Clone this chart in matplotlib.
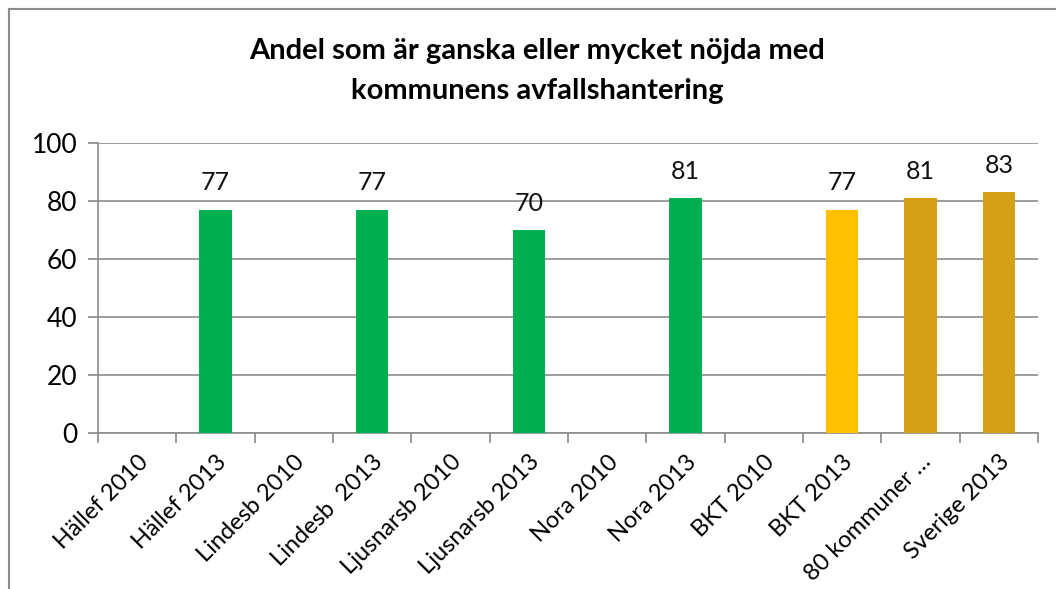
import matplotlib
matplotlib.use("Agg")
import matplotlib.pyplot as plt
from matplotlib.lines import Line2D
import numpy as np

categories = ["Hällef 2010", "Hällef 2013", "Lindesb 2010", "Lindesb  2013",
              "Ljusnarsb 2010", "Ljusnarsb 2013", "Nora 2010", "Nora 2013",
              "BKT 2010", "BKT 2013", "80 kommuner …", "Sverige 2013"]
values = [np.nan, 77, np.nan, 77, np.nan, 70, np.nan, 81, np.nan, 77, 81, 83]
bar_colors = ["#00B050", "#00B050", "#00B050", "#00B050", "#00B050", "#00B050",
              "#00B050", "#00B050", "#00B050", "#FFC000", "#D4A116", "#D4A116"]
title = "Andel som är ganska eller mycket nöjda med\nkommunens avfallshantering"

plt.rcParams['font.family'] = ['Lato', 'DejaVu Sans']

fig = plt.figure(figsize=(10.56, 5.89), dpi=100)
ax = fig.add_axes([98/1056, 1-433/589, 940/1056, 290/589])

x = np.arange(len(categories))
ax.bar(x, [0 if np.isnan(v) else v for v in values], width=0.41, color=bar_colors, zorder=3)
for xi, v in zip(x, values):
    if not np.isnan(v):
        ax.annotate(f"{int(v)}", (xi, v), xytext=(0, 14), textcoords="offset points",
                    ha="center", va="baseline", fontsize=18, color="#111111")

ax.set_xlim(-0.5, len(categories) - 0.5)
ax.set_ylim(0, 100)
ax.set_yticks(range(0, 101, 20))
ax.tick_params(axis="y", labelsize=19, length=7, color="#888888", width=1.2, pad=8)
ax.grid(axis="y", color="#8c8c8c", linewidth=1.2, zorder=0)

ax.set_xticks(np.arange(-0.5, len(categories), 1), minor=False)
ax.set_xticklabels([])
ax.set_xticks(x, minor=True)
ax.set_xticklabels(categories, minor=True, rotation=45, ha="right",
                   rotation_mode="anchor", fontsize=17)
ax.tick_params(axis="x", which="major", length=7, color="#888888", width=1.2, direction="out")
ax.tick_params(axis="x", which="minor", length=0, pad=13)

for s in ["top", "right"]:
    ax.spines[s].set_visible(False)
for s in ["left", "bottom"]:
    ax.spines[s].set_color("#8c8c8c")
    ax.spines[s].set_linewidth(1.2)
ax.set_axisbelow(True)

fig.text(537/1056, 1-71/589, title, ha="center", va="center", fontsize=21,
         fontweight="bold", linespacing=1.65)

fig.add_artist(Line2D([9/1056, 9/1056], [0, 1-9/589], transform=fig.transFigure,
                      color="#8c8c8c", linewidth=1.5))
fig.add_artist(Line2D([9/1056, 1], [1-9/589, 1-9/589], transform=fig.transFigure,
                      color="#8c8c8c", linewidth=1.5))

fig.savefig("out.png", dpi=100)
